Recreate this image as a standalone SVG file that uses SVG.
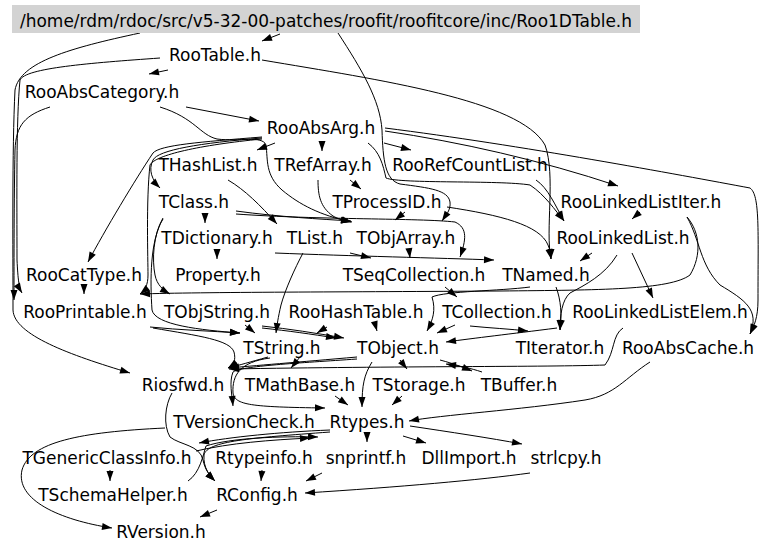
<svg xmlns="http://www.w3.org/2000/svg" width="768" height="551" viewBox="0 0 768 551">
<style>
text{font-family:"DejaVu Sans","Liberation Sans",sans-serif;font-size:17px;fill:#000;text-anchor:middle}
.e path{fill:none;stroke:#000;stroke-width:1;marker-end:url(#ah)}
</style>
<defs>
<marker id="ah" markerUnits="userSpaceOnUse" markerWidth="10" markerHeight="8" refX="10" refY="3.5" orient="auto" overflow="visible">
<path d="M0,0 L10,3.5 L0,7 z" fill="#000"/>
</marker>
</defs>
<rect width="768" height="551" fill="#fff"/>
<g class="e" id="edges">
<!-- title -->
<path d="M280,34 L262,41"/>
<path d="M140,33 C70,48 20,62 15,90 C12,150 13,250 13,310 C14,335 70,355 130,373"/>
<path d="M338,33 C362,70 380,100 382,130 C383,160 385,180 400,184 C430,188 448,190 450,202 C451,210 446,215 442,221"/>
<!-- RooTable -->
<path d="M168,70 L149,74"/>
<path d="M160,58 C90,63 25,68 20,80 C16,120 17,200 17,260 C18,280 19,288 22,293"/>
<path d="M262,60 C380,80 520,100 545,145 C556,175 545,230 551,259"/>
<!-- RooAbsCategory -->
<path d="M186,107 L259,121"/>
<path d="M50,107 C25,115 16,125 15,150 C14,200 14,260 14,300"/>
<path d="M160,107 C195,118 200,135 217,139 C240,142 262,135 266,145 C268,160 265,175 282,190 C300,205 320,215 351,222"/>
<!-- RooAbsArg -->
<path d="M275,143 L257,150"/>
<path d="M322,141 L322,151"/>
<path d="M384,143 L411,150"/>
<path d="M385,131 C460,142 540,160 618,186"/>
<path d="M385,128 C520,145 680,175 750,188 C760,195 758,230 758,300 C758,318 754,326 750,334"/>
<path d="M368,143 C380,152 383,165 386,178 C400,184 500,180 530,185 C545,195 555,210 564,221"/>
<path d="M262,137 C200,142 160,145 153,153 C135,180 105,230 88,262"/>
<path d="M262,138 C200,143 158,150 153,160 C148,170 152,180 160,188"/>
<path d="M262,139 C200,145 155,155 150,165 C146,200 148,260 148,275 C148,285 145,290 140,294"/>
<!-- THashList, TRefArray, TProcessID, TClass -->
<path d="M228,180 C245,190 260,205 277,224"/>
<path d="M350,180 L361,189"/>
<path d="M318,180 C318,195 320,207 333,216 C338,219 343,220 352,222"/>
<path d="M405,212 L395,220"/>
<path d="M447,207 C500,215 540,225 548,245 C550,250 551,253 551,259"/>
<path d="M236,211 C280,217 320,219 351,221"/>
<path d="M236,214 C320,220 420,218 455,222 C468,228 466,240 460,257"/>
<path d="M205,214 L205,223"/>
<path d="M163,218 C153,235 152,260 155,275 C157,285 163,290 170,294"/>
<path d="M163,219 C150,240 150,280 152,310 C155,325 200,330 240,333"/>
<!-- TDictionary, TList, TObjArray -->
<path d="M217,250 L217,259"/>
<path d="M275,253 C350,256 440,258 494,260"/>
<path d="M350,253 L371,258"/>
<path d="M409,249 L410,258"/>
<path d="M303,253 C295,268 285,290 281,305 C278,318 277,325 276,333"/>
<!-- RooLinkedListIter, RooLinkedList, RooRefCountList -->
<path d="M536,180 C548,188 555,205 564,221"/>
<path d="M640,212 L632,219"/>
<path d="M687,217 C700,232 702,255 690,275 C670,290 600,290 500,291 C350,292 200,292 140,294"/>
<path d="M687,217 C700,240 700,265 720,285 C745,300 760,310 750,334"/>
<path d="M592,253 L580,261"/>
<path d="M632,253 L653,298"/>
<path d="M617,255 C605,275 585,285 570,293 C562,300 560,315 560,330"/>
<path d="M556,287 C561,300 562,315 560,330"/>
<!-- RooCatType, TSeqCollection, TNamed -->
<path d="M84,285 L84,294"/>
<path d="M445,287 L457,297"/>
<path d="M530,287 C500,291 445,291 432,297 C436,310 433,320 427,331"/>
<!-- row 8 -->
<path d="M150,327 C180,330 210,331 240,333"/>
<path d="M153,328 C200,336 230,340 234,352 C236,360 234,364 228,368"/>
<path d="M245,325 L255,333"/>
<path d="M262,326 C290,329 315,333 344,338"/>
<path d="M262,328 C290,331 310,334 336,338"/>
<path d="M327,327 L317,333"/>
<path d="M375,324 L377,331"/>
<path d="M455,325 L437,333"/>
<path d="M470,326 C490,328 510,329 528,331"/>
<path d="M557,328 C510,334 475,338 446,342"/>
<path d="M623,328 C612,335 615,352 605,365 C550,367 400,366 229,369"/>
<!-- row 9 -->
<path d="M268,357 C250,362 240,365 228,368"/>
<path d="M357,357 C300,362 250,366 229,368"/>
<path d="M300,357 L291,368"/>
<path d="M270,358 C240,362 232,375 233,393 C235,405 250,407 325,408"/>
<path d="M357,359 C300,363 240,366 233,372 C229,382 232,395 233,406"/>
<path d="M372,362 C364,375 362,385 362,407"/>
<path d="M400,360 L407,369"/>
<path d="M440,360 C455,364 462,367 472,371"/>
<path d="M482,372 C470,368 460,366 446,364"/>
<path d="M650,362 C625,378 615,395 585,400 C520,410 440,415 409,421"/>
<!-- row 10 -->
<path d="M335,396 L348,405"/>
<path d="M402,396 L392,405"/>
<path d="M172,393 C165,405 163,425 170,437 C180,445 200,445 203,460 C205,470 210,476 215,481"/>
<!-- row 11 -->
<path d="M165,428 C80,432 30,442 22,470 C15,500 60,520 112,528"/>
<path d="M330,430 C280,432 230,437 199,443"/>
<path d="M330,432 C250,438 207,441 204,455 C203,468 210,476 215,481"/>
<path d="M367,433 L367,442"/>
<path d="M403,436 L426,443"/>
<path d="M410,426 C450,432 490,438 522,444"/>
<!-- rows 12-13 -->
<path d="M188,481 C200,473 203,455 206,446 C230,438 280,436 318,437"/>
<path d="M196,451 C230,443 270,440 310,438"/>
<path d="M110,470 L110,481"/>
<path d="M262,470 L261,481"/>
<path d="M322,473 L306,481"/>
<path d="M530,473 C480,480 400,487 305,493"/>
<path d="M217,510 L200,517"/>
</g>
<g id="n_title"><rect x="12" y="5" width="628" height="28" fill="#d3d3d3"/><text x="326" y="27" textLength="612" lengthAdjust="spacingAndGlyphs">/home/rdm/rdoc/src/v5-32-00-patches/roofit/roofitcore/inc/Roo1DTable.h</text></g>
<g id="n_RooTable"><text x="215" y="61">RooTable.h</text></g>
<g id="n_RooAbsCategory"><text x="102" y="98">RooAbsCategory.h</text></g>
<g id="n_RooAbsArg"><text x="321" y="134">RooAbsArg.h</text></g>
<g id="n_THashList"><text x="208" y="171">THashList.h</text></g>
<g id="n_TRefArray"><text x="323" y="171">TRefArray.h</text></g>
<g id="n_RooRefCountList"><text x="470" y="171">RooRefCountList.h</text></g>
<g id="n_TClass"><text x="194" y="208">TClass.h</text></g>
<g id="n_TProcessID"><text x="387" y="208">TProcessID.h</text></g>
<g id="n_RooLinkedListIter"><text x="641" y="208">RooLinkedListIter.h</text></g>
<g id="n_TDictionary"><text x="217" y="244">TDictionary.h</text></g>
<g id="n_TList"><text x="315" y="244">TList.h</text></g>
<g id="n_TObjArray"><text x="406" y="244">TObjArray.h</text></g>
<g id="n_RooLinkedList"><text x="623" y="244">RooLinkedList.h</text></g>
<g id="n_RooCatType"><text x="84" y="281">RooCatType.h</text></g>
<g id="n_Property"><text x="218" y="281">Property.h</text></g>
<g id="n_TSeqCollection"><text x="414" y="281">TSeqCollection.h</text></g>
<g id="n_TNamed"><text x="546" y="281">TNamed.h</text></g>
<g id="n_RooPrintable"><text x="85" y="318">RooPrintable.h</text></g>
<g id="n_TObjString"><text x="217" y="318">TObjString.h</text></g>
<g id="n_RooHashTable"><text x="356" y="318">RooHashTable.h</text></g>
<g id="n_TCollection"><text x="497" y="318">TCollection.h</text></g>
<g id="n_RooLinkedListElem"><text x="660" y="318">RooLinkedListElem.h</text></g>
<g id="n_TString"><text x="282" y="354">TString.h</text></g>
<g id="n_TObject"><text x="398" y="354">TObject.h</text></g>
<g id="n_TIterator"><text x="560" y="354">TIterator.h</text></g>
<g id="n_RooAbsCache"><text x="688" y="354">RooAbsCache.h</text></g>
<g id="n_Riosfwd"><text x="183" y="391">Riosfwd.h</text></g>
<g id="n_TMathBase"><text x="300" y="391">TMathBase.h</text></g>
<g id="n_TStorage"><text x="419" y="391">TStorage.h</text></g>
<g id="n_TBuffer"><text x="519" y="391">TBuffer.h</text></g>
<g id="n_TVersionCheck"><text x="244" y="428">TVersionCheck.h</text></g>
<g id="n_Rtypes"><text x="367" y="428">Rtypes.h</text></g>
<g id="n_TGenericClassInfo"><text x="107" y="464">TGenericClassInfo.h</text></g>
<g id="n_Rtypeinfo"><text x="264" y="464">Rtypeinfo.h</text></g>
<g id="n_snprintf"><text x="366" y="464">snprintf.h</text></g>
<g id="n_DllImport"><text x="469" y="464">DllImport.h</text></g>
<g id="n_strlcpy"><text x="566" y="464">strlcpy.h</text></g>
<g id="n_TSchemaHelper"><text x="113" y="501">TSchemaHelper.h</text></g>
<g id="n_RConfig"><text x="257" y="501">RConfig.h</text></g>
<g id="n_RVersion"><text x="161" y="538">RVersion.h</text></g>
</svg>
